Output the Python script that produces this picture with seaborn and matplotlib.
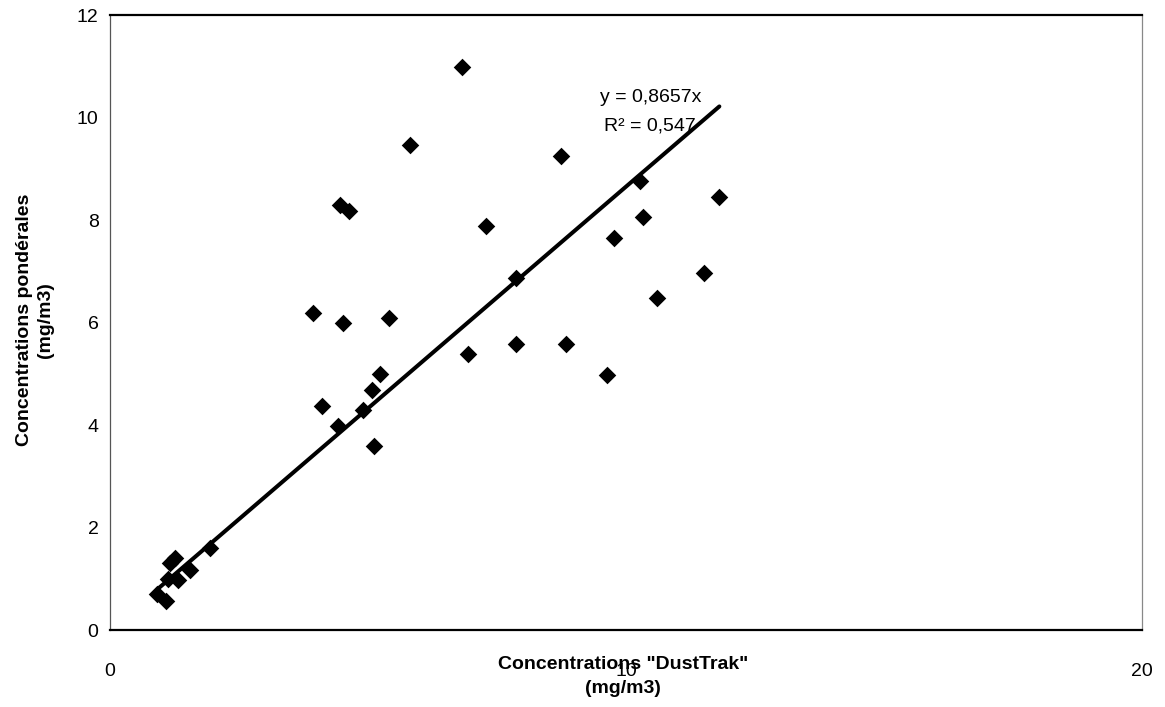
import numpy as np
import pandas as pd
import matplotlib
matplotlib.use("Agg")
import matplotlib.pyplot as plt
import seaborn as sns

# DustTrak readings (x) vs gravimetric mass concentrations (y), mg/m3
dusttrak = [6.83, 5.81, 8.75, 10.28, 11.81, 7.29, 10.34, 9.77, 7.87, 11.52,
            10.61, 4.46, 4.64, 3.94, 4.51, 5.40, 6.94, 7.87, 8.83, 9.63,
            5.23, 5.07, 4.11, 4.91, 4.42, 5.11, 0.92, 1.08, 1.16, 1.26,
            1.12, 1.32, 1.55, 1.94]
ponderales = [11.0, 9.47, 9.26, 8.77, 8.46, 7.88, 8.07, 7.66, 6.88, 6.97,
              6.49, 8.30, 8.19, 6.19, 6.0, 6.09, 5.39, 5.59, 5.59, 4.98,
              4.99, 4.69, 4.38, 4.30, 3.98, 3.59, 0.70, 0.57, 1.30, 1.40,
              0.99, 0.98, 1.18, 1.60]

# Linear trendline forced through the origin
slope = 0.8657
r_squared = "0,547"

x_ticks = [0, 10, 20]
y_ticks = [0, 2, 4, 6, 8, 10, 12]

sns.set_theme(style="white")
plt.rcParams["font.family"] = ["Liberation Sans", "DejaVu Sans"]
plt.rcParams["text.color"] = "black"
plt.rcParams["axes.labelcolor"] = "black"

df = pd.DataFrame({"x": dusttrak, "y": ponderales})

fig = plt.figure(figsize=(11.65, 7.07), dpi=100)
ax = fig.add_axes([0.0944, 0.1089, 0.8858, 0.8692])

sns.scatterplot(data=df, x="x", y="y", marker="D", color="black",
                s=80, linewidth=0, ax=ax, zorder=3)

xs = np.array([df["x"].min(), df["x"].max()])
sns.lineplot(x=xs, y=slope * xs, color="black", linewidth=2.9, ax=ax,
             zorder=2)

ax.text(10.47, 10.4, f"y = {slope:.4f}x".replace(".", ","), ha="center",
        va="center", fontsize=14, color="black")
ax.text(10.47, 9.85, f"R\u00b2 = {r_squared}", ha="center", va="center",
        fontsize=14, color="black")

ax.set_xlim(0, 20)
ax.set_ylim(0, 12)
ax.set_xticks(x_ticks)
ax.set_yticks(y_ticks)
ax.set_xticklabels([str(t) for t in x_ticks])
ax.set_yticklabels([str(t) for t in y_ticks])

ax.tick_params(axis="both", labelsize=14, colors="black", direction="inout",
               length=8.5, width=1)
ax.tick_params(axis="x", pad=21, length=6)
ax.tick_params(axis="y", pad=4)

for side in ("top", "bottom"):
    ax.spines[side].set_color("black")
    ax.spines[side].set_linewidth(1.6)
ax.spines["left"].set_color("#555555")
ax.spines["left"].set_linewidth(0.9)
ax.spines["right"].set_color("#888888")
ax.spines["right"].set_linewidth(0.9)

ax.set_xlabel("Concentrations \"DustTrak\"\n(mg/m3)", fontsize=14,
              fontweight="bold", linespacing=1.5, color="black")
ax.xaxis.set_label_coords(0.497, -0.043)
ax.xaxis.label.set_verticalalignment("top")

ax.set_ylabel("Concentrations pondérales\n(mg/m3)", fontsize=14,
              fontweight="bold", linespacing=1.35, color="black")
ax.yaxis.set_label_coords(-0.054, 0.505)

ax.grid(False)
fig.savefig("out.png", dpi=100, facecolor="white")
